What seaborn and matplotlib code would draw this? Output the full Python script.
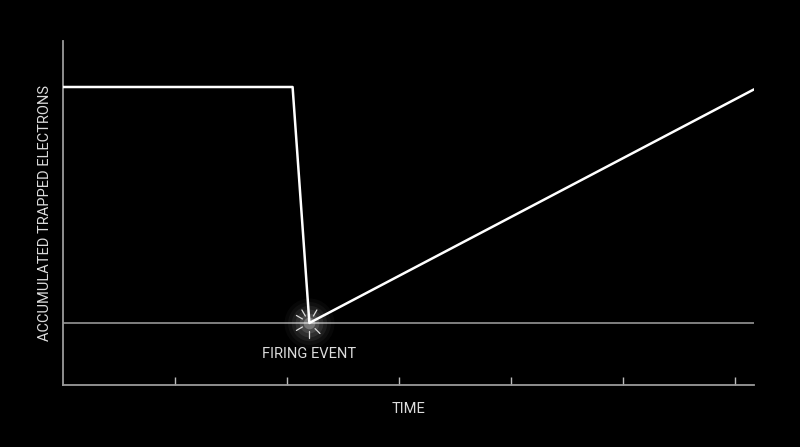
import numpy as np
import pandas as pd
import seaborn as sns
from matplotlib import pyplot as plt

# curva de electrones atrapados: meseta, caída en el disparo, recarga lineal
time = [0.0, 2.05, 2.2, 6.17]
electrons = [1.0, 1.0, 0.0, 0.99]
time_ticks = [1, 2, 3, 4, 5, 6]
firing_time = 2.2
firing_level = 0.0

df = pd.DataFrame({"time": time, "electrons": electrons})

sns.set_theme(style="dark")
plt.rcParams["font.family"] = ["Roboto", "DejaVu Sans"]

fig = plt.figure(figsize=(8, 4.47), dpi=100, facecolor="black")
ax = fig.add_axes([0.07875, 0.1387, 0.86375, 0.7696])
ax.set_facecolor("black")

ax.set_xlim(0, 6.17)
ax.set_ylim(-0.263, 1.195)

# línea base en el nivel de disparo
ax.axhline(firing_level, color="#8a8a8a", lw=1.3, zorder=1)

sns.lineplot(data=df, x="time", y="electrons", color="white", lw=1.8, ax=ax, zorder=3)

# brillo del evento de disparo
for s, a in [(1300, 0.03), (950, 0.04), (650, 0.06), (400, 0.08), (200, 0.12), (70, 0.25)]:
    ax.scatter([firing_time], [firing_level], s=s, color="white", alpha=a, lw=0, zorder=2)

# rayos cortos alrededor del punto (en píxeles)
fig.canvas.draw()
trans = ax.transData
px, py = trans.transform((firing_time, firing_level))
inv = trans.inverted()
for ang in np.deg2rad([60, 120, 150, 210, 270, 315]):
    p0 = inv.transform((px + 8 * np.cos(ang), py + 8 * np.sin(ang)))
    p1 = inv.transform((px + 15 * np.cos(ang), py + 15 * np.sin(ang)))
    ax.plot([p0[0], p1[0]], [p0[1], p1[1]], color="#dddddd", lw=0.9, zorder=2)

ax.text(firing_time, -0.13, "FIRING EVENT", color="#dcdcdc", fontsize=10.5,
        ha="center", va="center")

ax.set_xticks(time_ticks)
ax.set_xticklabels([])
ax.set_yticks([])
ax.tick_params(axis="x", direction="in", length=6, width=1, color="#bbbbbb", bottom=True)
ax.grid(False)

for side in ["top", "right"]:
    ax.spines[side].set_visible(False)
for side in ["left", "bottom"]:
    ax.spines[side].set_visible(True)
    ax.spines[side].set_color("#9a9a9a")
    ax.spines[side].set_linewidth(1.3)

ax.set_xlabel("TIME", color="#dcdcdc", fontsize=10.5, labelpad=9)
ax.set_ylabel("ACCUMULATED TRAPPED ELECTRONS", color="#dcdcdc", fontsize=10.5, labelpad=8)

fig.savefig("out.png", dpi=100, facecolor="black")
